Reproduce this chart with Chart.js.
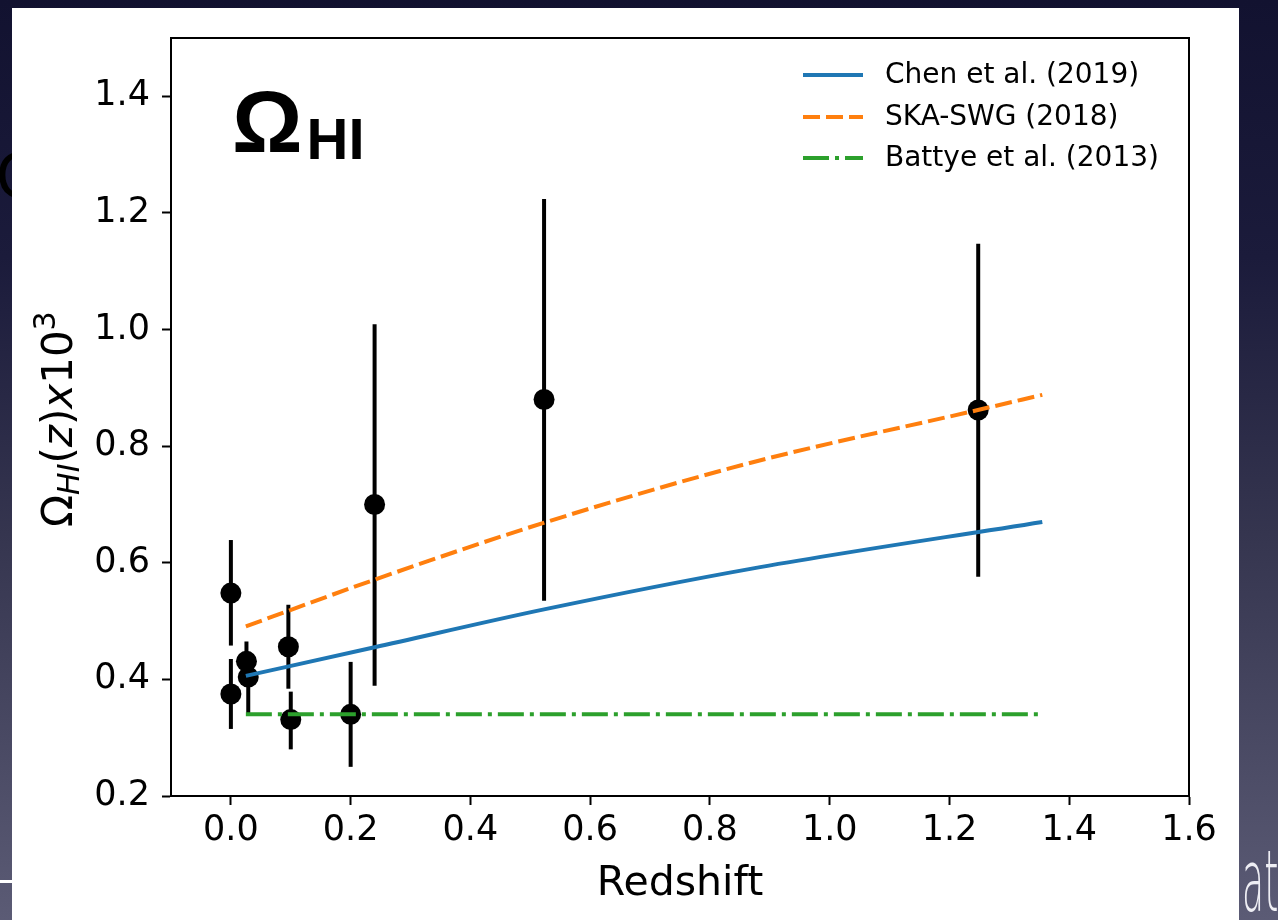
<!DOCTYPE html>
<html>
<head>
<meta charset="utf-8">
<script src="https://cdn.jsdelivr.net/npm/chart.js@4.4.1/dist/chart.umd.min.js"></script>
<style>
html,body{margin:0;padding:0;width:1278px;height:920px;overflow:hidden;}
body{position:relative;background:linear-gradient(to bottom,#121230 0%,#1b1b3b 28%,#35354f 58%,#5b5b75 100%);}
#slideO{position:absolute;left:-4px;top:142px;font:400 66px "Liberation Sans";color:#000;line-height:1;}
#slideAt{position:absolute;left:1242px;top:838px;font:200 86px "DejaVu Sans";color:#eeeef4;line-height:1;transform:scaleX(0.42);transform-origin:0 0;white-space:nowrap;}
#slideDash{position:absolute;left:0;top:880px;width:12px;height:3px;background:#fff;}
#panel{position:absolute;left:12px;top:8px;width:1227px;height:912px;background:#fff;}
canvas{position:absolute;left:0;top:0;}
</style>
</head>
<body>
<div id="slideO">O</div>
<div id="slideAt">at</div>
<div id="slideDash"></div>
<div id="panel"></div>
<canvas id="c" width="1278" height="920" style="width:1278px;height:920px"></canvas>
<script>
// ---- tick labels ----
const xTickValues = [0.0, 0.2, 0.4, 0.6, 0.8, 1.0, 1.2, 1.4, 1.6];
const yTickValues = [0.2, 0.4, 0.6, 0.8, 1.0, 1.2, 1.4];

// ---- observational points with error bars ----
const obsRedshift = [0.0, 0.0, 0.026, 0.029, 0.096, 0.100, 0.200, 0.240, 0.523, 1.248];
const obsOmegaHI  = [0.548, 0.375, 0.431, 0.404, 0.456, 0.331, 0.340, 0.700, 0.880, 0.862];
const obsErrLow   = [0.458, 0.315, 0.395, 0.342, 0.384, 0.280, 0.250, 0.389, 0.535, 0.576];
const obsErrHigh  = [0.639, 0.435, 0.465, 0.440, 0.528, 0.379, 0.430, 1.009, 1.224, 1.147];

// ---- model curves ----
const chenRedshift = [0.025, 0.24, 0.523, 0.87, 1.355];
const chenOmegaHI  = [0.406, 0.455, 0.520, 0.590, 0.670];
const skaRedshift  = [0.025, 0.24, 0.524, 0.87, 1.2475, 1.355];
const skaOmegaHI   = [0.491, 0.571, 0.669, 0.772, 0.862, 0.888];
const battyeRedshift = [0.025, 1.355];
const battyeOmegaHI  = [0.340, 0.340];

const seriesLabels = ['Chen et al. (2019)', 'SKA-SWG (2018)', 'Battye et al. (2013)'];

const zip = (xs, ys) => xs.map((v, i) => ({x: v, y: ys[i]}));

Chart.defaults.font.family = '"DejaVu Sans"';
Chart.defaults.color = '#000';

const customDraw = {
  id: 'customDraw',
  beforeDatasetsDraw(chart) {
    const {ctx, scales: {x, y}} = chart;
    ctx.save();
    ctx.strokeStyle = '#000';
    ctx.lineWidth = 4;
    obsRedshift.forEach((z, i) => {
      const px = x.getPixelForValue(z);
      ctx.beginPath();
      ctx.moveTo(px, y.getPixelForValue(obsErrLow[i]));
      ctx.lineTo(px, y.getPixelForValue(obsErrHigh[i]));
      ctx.stroke();
    });
    ctx.restore();
  },
  afterDraw(chart) {
    const {ctx, chartArea: a} = chart;
    ctx.save();
    // frame
    ctx.strokeStyle = '#000';
    ctx.lineWidth = 2;
    ctx.strokeRect(a.left, a.top, a.right - a.left, a.bottom - a.top);

    // legend
    ctx.textBaseline = 'middle';
    ctx.textAlign = 'left';
    ctx.font = '28px "DejaVu Sans"';
    const rowsY = [75, 117, 158];
    for (let i = 0; i < 3; i++) {
      const ds = chart.data.datasets[i];
      ctx.strokeStyle = ds.borderColor;
      ctx.lineWidth = ds.borderWidth;
      ctx.setLineDash(ds.borderDash || []);
      ctx.beginPath();
      ctx.moveTo(803, rowsY[i]);
      ctx.lineTo(863, rowsY[i]);
      ctx.stroke();
      ctx.setLineDash([]);
      ctx.fillStyle = '#000';
      ctx.fillText(ds.label, 885, rowsY[i] + 1);
    }

    // big title Omega_HI
    ctx.textBaseline = 'alphabetic';
    ctx.fillStyle = '#000';
    ctx.font = 'bold 88px "Liberation Sans"';
    ctx.fillText('Ω', 232, 152);
    const wO = ctx.measureText('Ω').width;
    ctx.font = 'bold 58px "Liberation Sans"';
    ctx.fillText('HI', 232 + wO + 4, 159);

    // x label
    ctx.font = '41px "DejaVu Sans"';
    ctx.textAlign = 'center';
    ctx.fillText('Redshift', (a.left + a.right) / 2, 895);

    // y label (mathtext-like)
    ctx.textAlign = 'left';
    ctx.translate(72, 527);
    ctx.rotate(-Math.PI / 2);
    const big = 42, small = 30;
    const parts = [
      {t: 'Ω', f: `${big}px "DejaVu Sans"`, dy: 0},
      {t: 'HI', f: `italic ${small}px "DejaVu Sans"`, dy: 7},
      {t: '(', f: `${big}px "DejaVu Sans"`, dy: 0},
      {t: 'z', f: `italic ${big}px "DejaVu Sans"`, dy: 0},
      {t: ')', f: `${big}px "DejaVu Sans"`, dy: 0},
      {t: 'x', f: `italic ${big}px "DejaVu Sans"`, dy: 0},
      {t: '10', f: `${big}px "DejaVu Sans"`, dy: 0},
      {t: '3', f: `${small}px "DejaVu Sans"`, dy: -17}
    ];
    let cx = 0;
    parts.forEach(p => {
      ctx.font = p.f;
      ctx.fillText(p.t, cx, p.dy);
      cx += ctx.measureText(p.t).width;
    });
    ctx.restore();
  }
};

const axisCommon = {
  type: 'linear',
  grid: {drawOnChartArea: false, drawTicks: true, tickLength: 9, tickWidth: 2, tickColor: '#000'},
  border: {display: true, color: '#000', width: 2},
  ticks: {color: '#000', font: {size: 35}, autoSkip: false, maxRotation: 0, callback: v => Number(v).toFixed(1)}
};

new Chart(document.getElementById('c'), {
  data: {
    datasets: [
      {type: 'line', label: seriesLabels[0], data: zip(chenRedshift, chenOmegaHI), borderColor: '#1f77b4', borderWidth: 4, pointRadius: 0, fill: false, cubicInterpolationMode: 'monotone', order: 1},
      {type: 'line', label: seriesLabels[1], data: zip(skaRedshift, skaOmegaHI), borderColor: '#ff7f0e', borderWidth: 4, borderDash: [17, 6], pointRadius: 0, fill: false, cubicInterpolationMode: 'monotone', order: 1},
      {type: 'line', label: seriesLabels[2], data: zip(battyeRedshift, battyeOmegaHI), borderColor: '#2ca02c', borderWidth: 4, borderDash: [26, 6, 4, 6], pointRadius: 0, fill: false, order: 1},
      {type: 'scatter', label: 'data', data: zip(obsRedshift, obsOmegaHI), backgroundColor: '#000', borderColor: '#000', borderWidth: 0, pointRadius: 10.5, order: 2}
    ]
  },
  options: {
    responsive: false,
    animation: false,
    devicePixelRatio: 1,
    layout: {padding: {top: 38, right: 89, left: 0, bottom: 0}},
    plugins: {legend: {display: false}, tooltip: {enabled: false}},
    scales: {
      x: Object.assign({}, axisCommon, {
        position: 'bottom', min: -0.1, max: 1.6,
        ticks: Object.assign({}, axisCommon.ticks, {padding: 5}),
        afterBuildTicks: s => { s.ticks = xTickValues.map(v => ({value: v})); },
        afterFit: s => { s.height = 124; }
      }),
      y: Object.assign({}, axisCommon, {
        position: 'left', min: 0.2, max: 1.5,
        ticks: Object.assign({}, axisCommon.ticks, {padding: 12}),
        afterBuildTicks: s => { s.ticks = yTickValues.map(v => ({value: v})); },
        afterFit: s => { s.width = 171; }
      })
    }
  },
  plugins: [customDraw]
});
</script>
</body>
</html>
